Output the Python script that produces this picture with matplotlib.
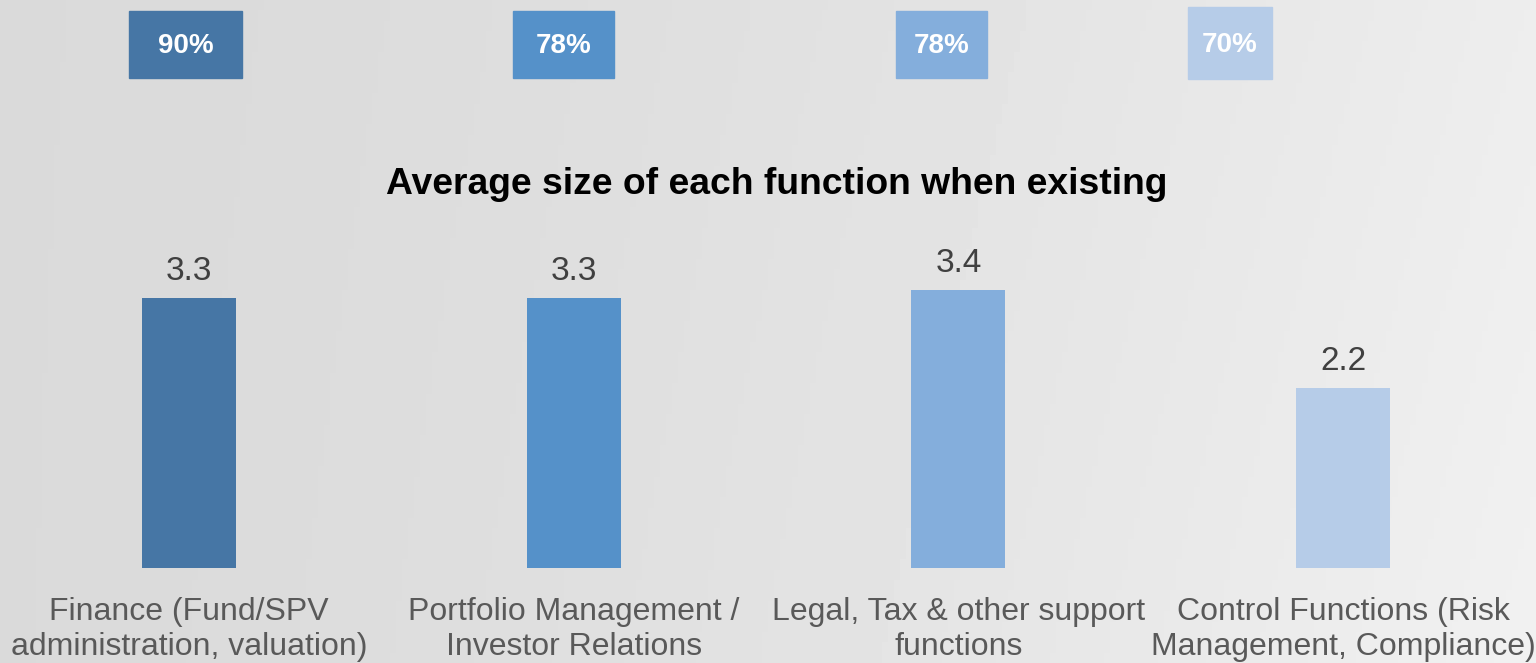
import numpy as np
import matplotlib.pyplot as plt
from matplotlib.patches import Rectangle

plt.rcParams['font.family'] = ['Liberation Sans', 'DejaVu Sans']

# Data
categories = [
    "Finance (Fund/SPV\nadministration, valuation)",
    "Portfolio Management /\nInvestor Relations",
    "Legal, Tax & other support\nfunctions",
    "Control Functions (Risk\nManagement, Compliance)",
]
share_existing = [90, 78, 78, 70]
avg_size = [3.3, 3.3, 3.4, 2.2]
colors = ["#4676a5", "#5591c9", "#84aedc", "#b6cce8"]

W, H = 1536, 663
fig = plt.figure(figsize=(W / 100, H / 100), dpi=100)

# light grey background, brighter to the right
bg = fig.add_axes([0, 0, 1, 1])
gx = np.linspace(0, 1, 256)
gy = np.linspace(0, 1, 64)[:, None]
grad = 0.855 + 0.075 * gx ** 1.6 + 0.015 * gy * gx
bg.imshow(grad, cmap="gray", vmin=0, vmax=1, aspect="auto", extent=[0, 1, 0, 1])
bg.set_axis_off()

# bar chart: baseline at y=568 px, 81.8 px per unit
base_px = 568
unit_px = 81.8
step_px = 384.7
first_px = 189
ax = fig.add_axes([0, (H - base_px) / H, 1, base_px / H])
ax.set_facecolor("none")
x = np.arange(len(categories))
ax.bar(x, avg_size, width=94 / step_px, color=colors)
ax.set_xlim(-first_px / step_px, (W - first_px) / step_px)
ax.set_ylim(0, base_px / unit_px)
for xi, v in zip(x, avg_size):
    ax.annotate(f"{v:.1f}", (xi, v), xytext=(0, 8), textcoords="offset points",
                ha="center", va="bottom", fontsize=24, color="#404040")
ax.set_xticks(x)
ax.set_xticklabels(categories, fontsize=23, color="#595959", linespacing=1.2)
ax.tick_params(axis="x", length=0, pad=21)
ax.set_yticks([])
for s in ax.spines.values():
    s.set_visible(False)

fig.text(777 / W, 1 - 185 / H, "Average size of each function when existing",
         ha="center", va="center", fontsize=26.8, fontweight="bold", color="black")

# percentage boxes along the top (pixel extents: left, top, right, bottom)
boxes = [(129, 11, 242, 78), (513, 11, 614, 78), (896, 11, 987, 78), (1188, 7, 1272, 79)]
for (l, t, r, b), pct, c in zip(boxes, share_existing, colors):
    fig.patches.append(Rectangle((l / W, 1 - b / H), (r - l) / W, (b - t) / H,
                                 transform=fig.transFigure, color=c))
    fig.text((l + r) / 2 / W, 1 - (t + b) / 2 / H - 0.003, f"{pct}%",
             ha="center", va="center", fontsize=20, fontweight="bold", color="white")

fig.savefig("out.png", dpi=100)
